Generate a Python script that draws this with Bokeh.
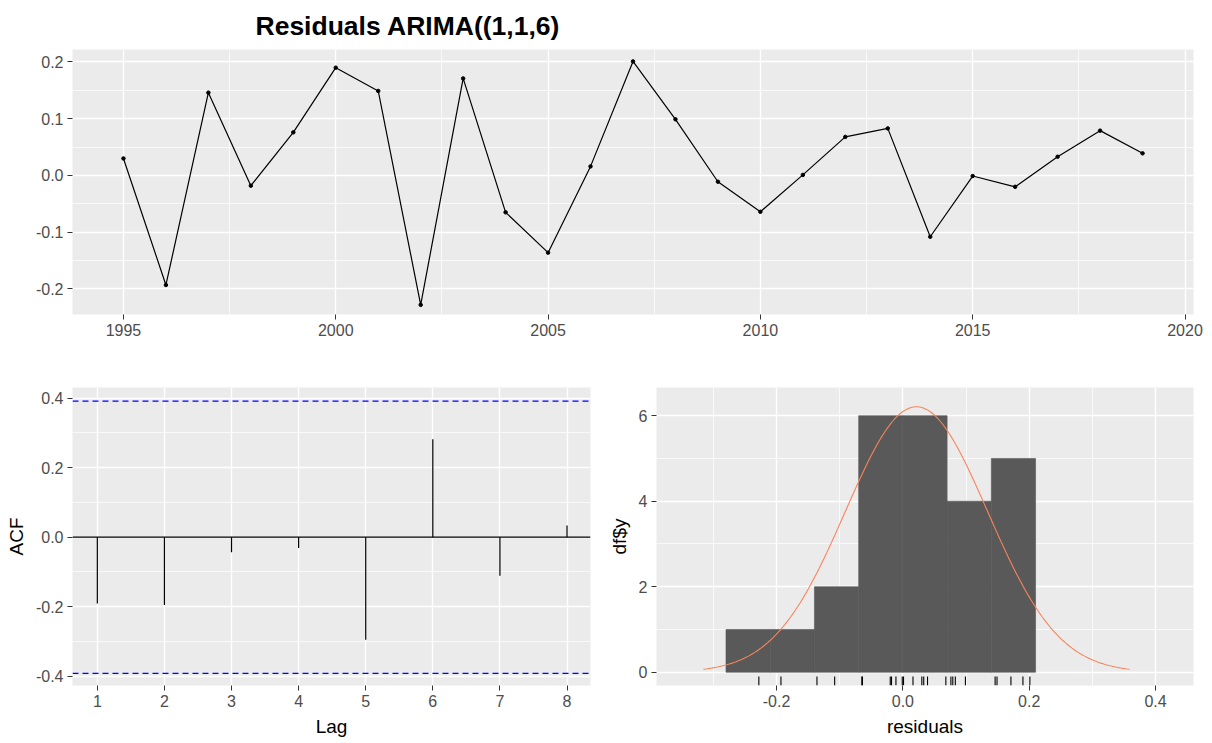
import numpy as np
from bokeh.plotting import figure
from bokeh.models import Range1d, FixedTicker, PrintfTickFormatter, Span
from bokeh.layouts import column, row
from bokeh.embed import file_html
from bokeh.resources import INLINE

# ---------------- data ----------------
years = list(range(1995, 2020))
residuals = [0.030, -0.193, 0.146, -0.018, 0.076, 0.190, 0.149, -0.228, 0.171,
             -0.065, -0.136, 0.016, 0.201, 0.099, -0.011, -0.064, 0.001, 0.068,
             0.083, -0.108, -0.001, -0.020, 0.033, 0.079, 0.039]

lags = [1, 2, 3, 4, 5, 6, 7, 8]
acf_values = [-0.191, -0.195, -0.043, -0.031, -0.295, 0.282, -0.111, 0.034]
conf_limit = 0.392

bin_edges = [-0.28, -0.21, -0.14, -0.07, 0.0, 0.07, 0.14, 0.21]
bin_counts = [1, 1, 2, 6, 6, 4, 5]

top_x_ticks = [1995, 2000, 2005, 2010, 2015, 2020]
top_x_minor = [1992.5, 1997.5, 2002.5, 2007.5, 2012.5, 2017.5]
top_y_ticks = [-0.2, -0.1, 0.0, 0.1, 0.2]
top_y_minor = [-0.25, -0.15, -0.05, 0.05, 0.15]
acf_y_ticks = [-0.4, -0.2, 0.0, 0.2, 0.4]
acf_y_minor = [-0.3, -0.1, 0.1, 0.3]
hist_x_ticks = [-0.2, 0.0, 0.2, 0.4]
hist_x_minor = [-0.3, -0.1, 0.1, 0.3]
hist_y_ticks = [0, 2, 4, 6]
hist_y_minor = [1, 3, 5]

TITLE = "Residuals ARIMA((1,1,6)"

FONT = "Liberation Sans"
TICK_SIZE = "16px"
LABEL_SIZE = "19px"


def style(p, xt, xm, yt, ym, xfmt=None, yfmt=None):
    p.background_fill_color = "#EBEBEB"
    p.border_fill_color = "white"
    p.outline_line_color = None
    p.xaxis.ticker = FixedTicker(ticks=xt, minor_ticks=xm)
    p.yaxis.ticker = FixedTicker(ticks=yt, minor_ticks=ym)
    if xfmt:
        p.xaxis.formatter = PrintfTickFormatter(format=xfmt)
    if yfmt:
        p.yaxis.formatter = PrintfTickFormatter(format=yfmt)
    for ax in p.axis:
        ax.axis_line_color = None
        ax.major_tick_line_color = "#333333"
        ax.major_tick_line_width = 1
        ax.major_tick_out = 5
        ax.major_tick_in = 0
        ax.minor_tick_line_color = None
        ax.major_label_text_font = FONT
        ax.major_label_text_font_size = TICK_SIZE
        ax.major_label_text_color = "#4D4D4D"
        ax.major_label_standoff = 4
        ax.axis_label_text_font = FONT
        ax.axis_label_text_font_size = LABEL_SIZE
        ax.axis_label_text_font_style = "normal"
        ax.axis_label_text_color = "black"
        ax.axis_label_standoff = 6
    for g in p.grid:
        g.grid_line_color = "white"
        g.grid_line_width = 1.4
        g.minor_grid_line_color = "white"
        g.minor_grid_line_width = 0.7


# ---------------- top: residual time series ----------------
top = figure(width=1212, height=350, output_backend="svg", toolbar_location=None,
             x_range=Range1d(1993.8, 2020.2), y_range=Range1d(-0.245, 0.222),
             min_border_left=72, min_border_right=19, min_border_top=49,
             min_border_bottom=36, title=TITLE)
style(top, top_x_ticks, top_x_minor, top_y_ticks, top_y_minor, yfmt="%.1f")
top.title.text_font = FONT
top.title.text_font_style = "bold"
top.title.text_font_size = "26.5px"
top.title.text_color = "black"
top.title.align = "left"
top.title.vertical_align = "top"
top.title.offset = 183
top.title.standoff = 14
top.line(years, residuals, line_color="black", line_width=1.2)
top.scatter(years, residuals, size=3.5, color="black")

# ---------------- bottom left: ACF ----------------
acf = figure(width=600, height=393, output_backend="svg", toolbar_location=None,
             x_range=Range1d(0.63, 8.35), y_range=Range1d(-0.427, 0.431),
             min_border_left=72, min_border_right=10, min_border_top=37,
             min_border_bottom=58, x_axis_label="Lag", y_axis_label="ACF")
style(acf, lags, [], acf_y_ticks, acf_y_minor, yfmt="%.1f")
acf.add_layout(Span(location=conf_limit, dimension="width", line_color="#0000FF",
                    line_dash="6 4", line_width=1.3))
acf.add_layout(Span(location=-conf_limit, dimension="width", line_color="#0000FF",
                    line_dash="6 4", line_width=1.3))
acf.add_layout(Span(location=0, dimension="width", line_color="black", line_width=1.2))
acf.segment(x0=lags, y0=[0] * len(lags), x1=lags, y1=acf_values,
            line_color="black", line_width=1.2)

# ---------------- bottom right: histogram ----------------
hx0, hx1 = -0.39, 0.46
hy0, hy1 = -0.31, 6.66
hist = figure(width=612, height=393, output_backend="svg", toolbar_location=None,
              x_range=Range1d(hx0, hx1), y_range=Range1d(hy0, hy1),
              min_border_left=56, min_border_right=19, min_border_top=37,
              min_border_bottom=58, x_axis_label="residuals", y_axis_label="df$y")
style(hist, hist_x_ticks, hist_x_minor, hist_y_ticks, hist_y_minor,
      xfmt="%.1f", yfmt="%d")
hist.quad(left=bin_edges[:-1], right=bin_edges[1:], bottom=0, top=bin_counts,
          fill_color="#595959", line_color="#595959", line_width=0.6)

res = np.array(residuals)
mu = res.mean()
sd = res.std(ddof=1)
binwidth = bin_edges[1] - bin_edges[0]
xs = np.linspace(mu - 3 * sd, mu + 3 * sd, 200)
ys = len(res) * binwidth * np.exp(-0.5 * ((xs - mu) / sd) ** 2) / (sd * np.sqrt(2 * np.pi))
hist.line(xs, ys, line_color="#F8845C", line_width=1.1)

rug_len = 0.03 * (hy1 - hy0)
hist.segment(x0=residuals, y0=[hy0] * len(res), x1=residuals,
             y1=[hy0 + rug_len] * len(res), line_color="black", line_width=1.1)

layout = column(top, row(acf, hist))
open("out.html", "w").write(file_html(layout, INLINE))
